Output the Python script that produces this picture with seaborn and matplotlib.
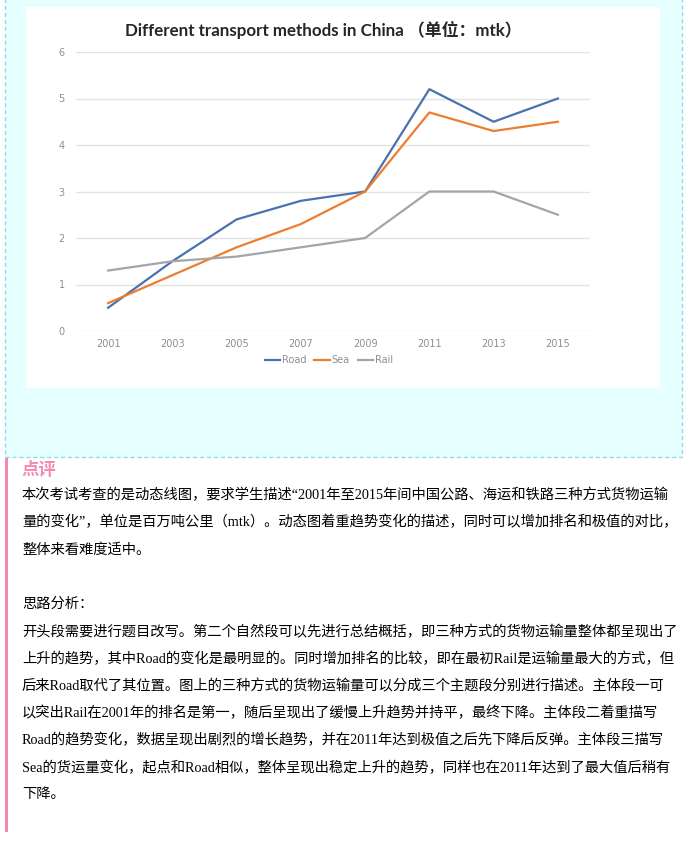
import seaborn as sns
import matplotlib.pyplot as plt
import matplotlib.patches as mpatches
import pandas as pd

# chart data
years = [2001, 2003, 2005, 2007, 2009, 2011, 2013, 2015]
road = [0.5, 1.5, 2.4, 2.8, 3.0, 5.2, 4.5, 5.0]
sea = [0.6, 1.2, 1.8, 2.3, 3.0, 4.7, 4.3, 4.5]
rail = [1.3, 1.5, 1.6, 1.8, 2.0, 3.0, 3.0, 2.5]
methods = ['Road', 'Sea', 'Rail']
colors = ['#4a72b0', '#ed7d31', '#a5a5a5']
y_ticks = [0, 1, 2, 3, 4, 5, 6]

title = 'Different transport methods in China （单位：mtk）'
heading = '点评'
para1 = [
    '本次考试考查的是动态线图，要求学生描述“2001年至2015年间中国公路、海运和铁路三种方式货物运输',
    '量的变化”，单位是百万吨公里（mtk）。动态图着重趋势变化的描述，同时可以增加排名和极值的对比，',
    '整体来看难度适中。',
]
heading2 = '思路分析：'
para2 = [
    '开头段需要进行题目改写。第二个自然段可以先进行总结概括，即三种方式的货物运输量整体都呈现出了',
    '上升的趋势，其中Road的变化是最明显的。同时增加排名的比较，即在最初Rail是运输量最大的方式，但',
    '后来Road取代了其位置。图上的三种方式的货物运输量可以分成三个主题段分别进行描述。主体段一可',
    '以突出Rail在2001年的排名是第一，随后呈现出了缓慢上升趋势并持平，最终下降。主体段二着重描写',
    'Road的趋势变化，数据呈现出剧烈的增长趋势，并在2011年达到极值之后先下降后反弹。主体段三描写',
    'Sea的货运量变化，起点和Road相似，整体呈现出稳定上升的趋势，同样也在2011年达到了最大值后稍有',
    '下降。',
]

df = pd.DataFrame({
    'year': years * 3,
    'value': road + sea + rail,
    'method': [m for m in methods for _ in years],
})

W, H = 688, 843
fig = plt.figure(figsize=(W / 100, H / 100), dpi=100)
fig.patch.set_facecolor('white')


def px_rect(x0, y0, x1, y1, **kw):
    # rectangle given in pixel coords measured from the top left
    r = mpatches.Rectangle((x0 / W, 1 - y1 / H), (x1 - x0) / W, (y1 - y0) / H,
                           transform=fig.transFigure, **kw)
    fig.patches.append(r)


# page decoration: cyan box, white chart card, pink side bar
px_rect(5, -5, 682, 457, facecolor='#e6ffff', edgecolor='#8fdde6',
        linewidth=1, linestyle=(0, (3, 2)), zorder=0)
px_rect(26, 7, 660, 388, facecolor='white', edgecolor='none', zorder=1)
px_rect(5, 458, 8, 832, facecolor='#f589b5', edgecolor='none', zorder=1)

ax = fig.add_axes([76 / W, 1 - 331 / H, (590 - 76) / W, (331 - 52) / H])
ax.set_facecolor('none')
ax.set_zorder(2)

sns.lineplot(data=df, x='year', y='value', hue='method', palette=colors,
             hue_order=methods, linewidth=1.6, ax=ax, legend=False)

ax.set_xlim(2000, 2016)
ax.set_ylim(0, 6)
ax.set_xticks(years)
ax.set_yticks(y_ticks)
ax.set_xlabel('')
ax.set_ylabel('')
for s in ax.spines.values():
    s.set_visible(False)
ax.grid(axis='y', color='#e3e3e3', linewidth=1)
ax.set_axisbelow(True)
ax.tick_params(length=0, labelsize=7, colors='#8f8f8f')
ax.tick_params(axis='y', pad=8)
ax.tick_params(axis='x', pad=6)

handles = [plt.Line2D([], [], color=c, linewidth=1.6) for c in colors]
leg = ax.legend(handles, methods, loc='center', bbox_to_anchor=(329 / W, 1 - 360 / H),
                bbox_transform=fig.transFigure, ncol=3, frameon=False,
                fontsize=7, handlelength=1.6, handletextpad=0.2, columnspacing=0.8)
plt.setp(leg.get_texts(), color='#8f8f8f')

fig.text(323 / W, 1 - 30 / H, title, ha='center', va='center', fontsize=12.2,
         fontweight='bold', color='#262626', family=['Lato', 'Noto Sans CJK SC'], zorder=3)

body_font = ['Liberation Serif', 'Noto Sans CJK SC']
fig.text(22 / W, 1 - 470 / H, heading, ha='left', va='center', fontsize=12.5,
         fontweight='bold', color='#f589b5', family=['Noto Sans CJK SC'])

y = 495
for line in para1:
    fig.text(22 / W, 1 - y / H, line, ha='left', va='center', fontsize=10.3,
             color='#000000', family=body_font)
    y += 27.4
fig.text(22 / W, 1 - 604 / H, heading2, ha='left', va='center', fontsize=10.3,
         color='#000000', family=body_font)
y = 631.5
for line in para2:
    fig.text(22 / W, 1 - y / H, line, ha='left', va='center', fontsize=10.3,
             color='#000000', family=body_font)
    y += 27.2

fig.savefig('out.png', dpi=100)
